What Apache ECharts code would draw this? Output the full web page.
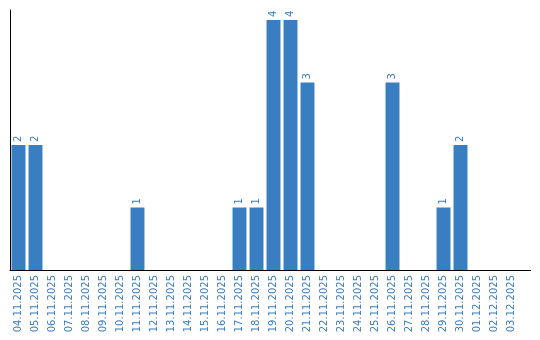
<!DOCTYPE html>
<html><head><meta charset="utf-8">
<script src="https://cdn.jsdelivr.net/npm/echarts@6/dist/echarts.min.js"></script>
<style>html,body{margin:0;padding:0;background:#fff}#c{width:540px;height:340px}</style>
</head><body><div id="c"></div>
<script>
const categories = ["04.11.2025","05.11.2025","06.11.2025","07.11.2025","08.11.2025","09.11.2025","10.11.2025","11.11.2025","12.11.2025","13.11.2025","14.11.2025","15.11.2025","16.11.2025","17.11.2025","18.11.2025","19.11.2025","20.11.2025","21.11.2025","22.11.2025","23.11.2025","24.11.2025","25.11.2025","26.11.2025","27.11.2025","28.11.2025","29.11.2025","30.11.2025","01.12.2025","02.12.2025","03.12.2025"];
const values = [2,2,0,0,0,0,0,1,0,0,0,0,0,1,1,4,4,3,0,0,0,0,3,0,0,1,2,0,0,0];
const blue = '#3a7ec2';
const chart = echarts.init(document.getElementById('c'), null, {renderer:'canvas'});
chart.setOption({
  animation:false,
  grid:{left:10,right:20,top:10,bottom:70,containLabel:false},
  graphic:[{type:'line',shape:{x1:519,y1:270.5,x2:531,y2:270.5},style:{stroke:'#000',lineWidth:1},silent:true}],
  xAxis:{type:'category',data:categories,
    axisLine:{lineStyle:{color:'#000',width:1}},
    axisTick:{show:false},
    axisLabel:{interval:0,rotate:90,color:blue,fontFamily:'DejaVu Sans',fontSize:10,margin:5}},
  yAxis:{type:'value',min:0,max:4.16,
    axisLine:{show:true,lineStyle:{color:'#000',width:1}},
    axisTick:{show:false},axisLabel:{show:false},splitLine:{show:false}},
  series:[{type:'bar',data:values.map(v=>({value:v,label:{show:v>0}})),
    barCategoryGap:'18%',
    itemStyle:{color:blue},
    label:{position:'top',rotate:90,align:'left',verticalAlign:'middle',distance:3,
      color:blue,fontFamily:'DejaVu Sans',fontSize:10}}]
});
</script></body></html>
